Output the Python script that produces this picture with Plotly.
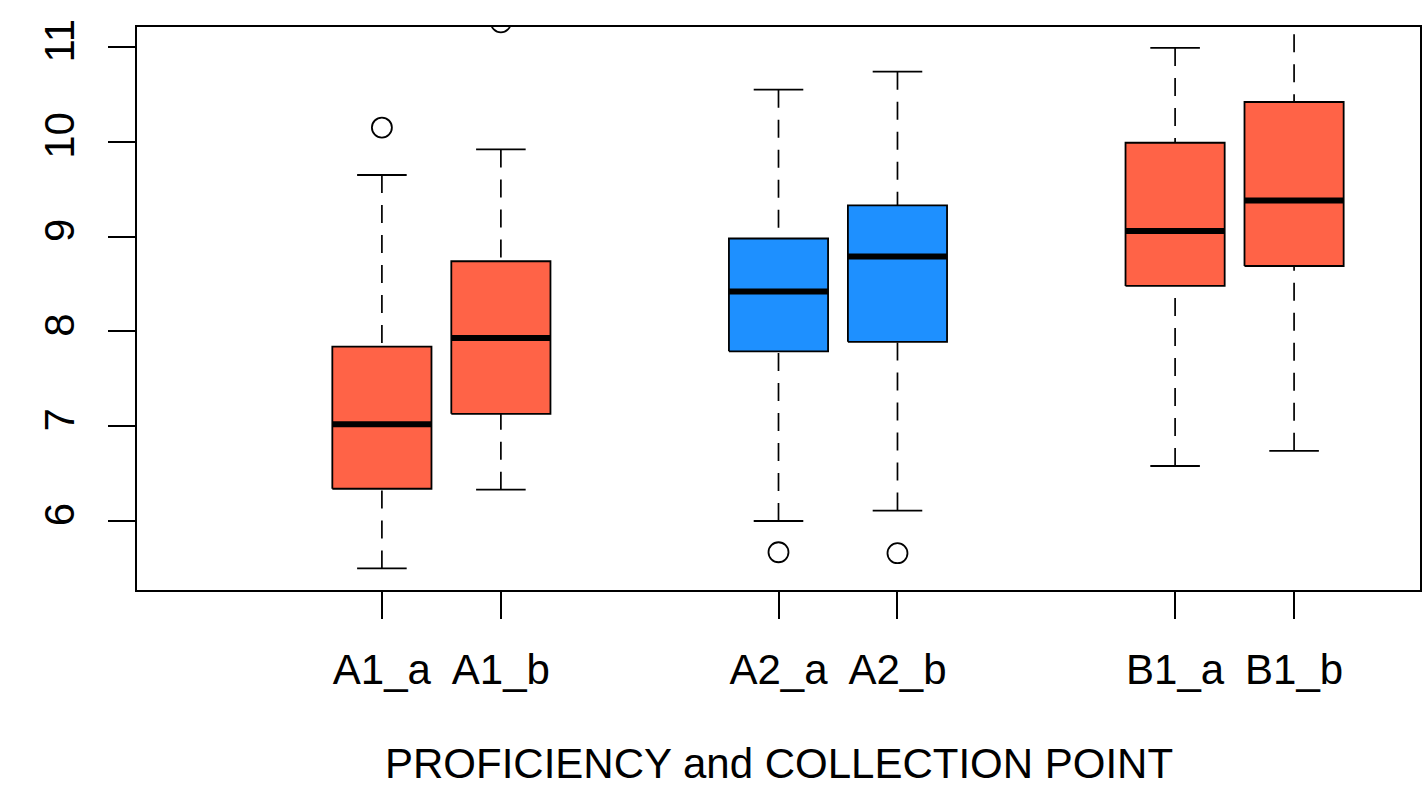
import plotly.graph_objects as go

labels = ["A1_a", "A1_b", "A2_a", "A2_b", "B1_a", "B1_b"]
positions = [1.0, 1.6, 3.0, 3.6, 5.0, 5.6]
q1 = [6.34, 7.13, 7.79, 7.89, 8.48, 8.69]
median = [7.02, 7.93, 8.42, 8.79, 9.06, 9.38]
q3 = [7.84, 8.74, 8.98, 9.33, 9.99, 10.42]
lower_whisker = [5.50, 6.33, 6.00, 6.11, 6.58, 6.74]
upper_whisker = [9.65, 9.92, 10.55, 10.74, 10.99, 11.45]
outlier_x = ["A1_a", "A1_b", "A2_a", "A2_b"]
outlier_y = [10.15, 11.26, 5.67, 5.66]
fill_colors = ["tomato", "tomato", "dodgerblue", "dodgerblue", "tomato", "tomato"]
x_title = "PROFICIENCY and COLLECTION POINT"

box_width = 0.5
cap_width = 0.25
FONT = "Liberation Sans, Arial, sans-serif"

fig = go.Figure()
for i, lab in enumerate(labels):
    p = positions[i]
    h = box_width / 2
    c = cap_width / 2
    # whiskers (dashed), drawn from whisker end toward the box
    fig.add_trace(go.Scatter(x=[p, p], y=[upper_whisker[i], q3[i]], mode="lines",
                             line=dict(color="black", width=1.7, dash="18px,12px"),
                             hoverinfo="skip", showlegend=False))
    fig.add_trace(go.Scatter(x=[p, p], y=[lower_whisker[i], q1[i]], mode="lines",
                             line=dict(color="black", width=1.7, dash="18px,12px"),
                             hoverinfo="skip", showlegend=False))
    # caps
    fig.add_trace(go.Scatter(x=[p - c, p + c, None, p - c, p + c],
                             y=[upper_whisker[i], upper_whisker[i], None, lower_whisker[i], lower_whisker[i]],
                             mode="lines", line=dict(color="black", width=1.8),
                             hoverinfo="skip", showlegend=False))
    # box
    fig.add_trace(go.Scatter(x=[p - h, p + h, p + h, p - h, p - h],
                             y=[q1[i], q1[i], q3[i], q3[i], q1[i]],
                             mode="lines", fill="toself", fillcolor=fill_colors[i],
                             line=dict(color="black", width=1.8),
                             name=lab, showlegend=False))
    # median
    fig.add_trace(go.Scatter(x=[p - h, p + h], y=[median[i], median[i]], mode="lines",
                             line=dict(color="black", width=6),
                             hoverinfo="skip", showlegend=False))

ox = [positions[labels.index(l)] for l in outlier_x]
fig.add_trace(go.Scatter(x=ox, y=outlier_y, mode="markers",
                         marker=dict(symbol="circle-open", size=20, color="black",
                                     line=dict(width=1.8, color="black")),
                         showlegend=False))

fig.add_annotation(text=x_title, xref="paper", yref="paper", x=0.5, y=0,
                   xanchor="center", yanchor="middle", yshift=-173, showarrow=False,
                   font=dict(family=FONT, size=42, color="black"))

fig.update_layout(
    width=1424, height=788,
    margin=dict(l=137, r=4, t=27, b=198),
    paper_bgcolor="white", plot_bgcolor="white",
    font=dict(family=FONT, size=42, color="black"),
    xaxis=dict(range=[-0.235, 6.235], tickmode="array", tickvals=positions, ticktext=labels,
               ticks="outside", ticklen=27, tickwidth=1.7, tickcolor="black",
               showline=True, linecolor="black", linewidth=2, mirror=True,
               showgrid=False, zeroline=False, ticklabelstandoff=15, automargin=False),
    yaxis=dict(range=[5.272, 11.211], tickmode="array", tickvals=[6, 7, 8, 9, 10, 11],
               ticktext=["6", "7", "8", "9", "10", "11"], tickangle=-90,
               ticks="outside", ticklen=27, tickwidth=1.7, tickcolor="black",
               showline=True, linecolor="black", linewidth=2, mirror=True,
               showgrid=False, zeroline=False, ticklabelstandoff=17, automargin=False),
)

fig.write_html("out.html", config={"displayModeBar": False},
               post_script="document.body.style.margin='0px';document.body.style.overflow='hidden';")
